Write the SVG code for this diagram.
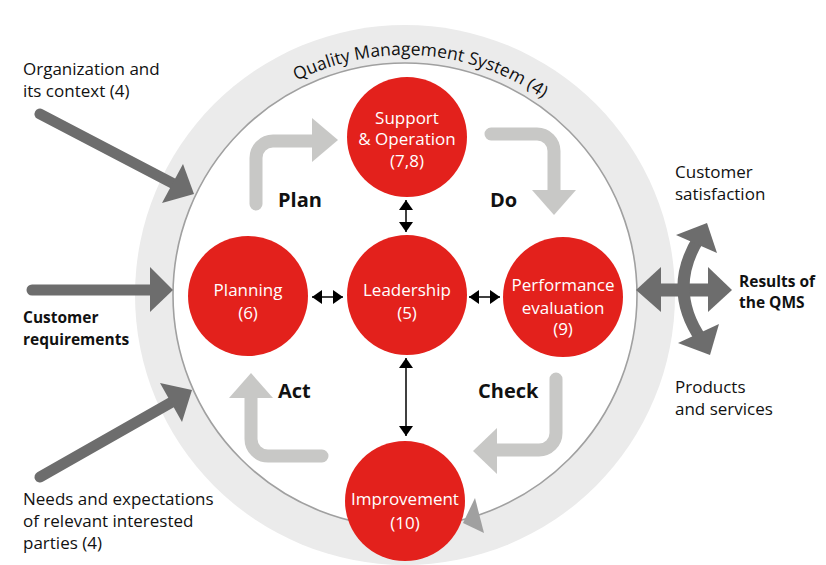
<svg xmlns="http://www.w3.org/2000/svg" width="826" height="565" viewBox="0 0 826 565">
<defs>
<style>
.lbl{font-family:"Open Sans","Liberation Sans",sans-serif;font-size:17px;fill:#111}
.bl{font-family:"Open Sans","Liberation Sans",sans-serif;font-size:15.5px;font-weight:bold;fill:#111}
.pdca{font-family:"Open Sans","Liberation Sans",sans-serif;font-size:20px;font-weight:bold;fill:#111}
.ct{font-family:"Open Sans","Liberation Sans",sans-serif;font-size:17px;fill:#fff;text-anchor:middle}
.node{fill:#e3211c}
.dk{fill:none;stroke:#6d6d6d;stroke-width:11;stroke-linecap:round}
.dkh{fill:#6d6d6d}
.lt{fill:none;stroke:#c8c8c6;stroke-width:13;stroke-linecap:round}
.lth{fill:#c8c8c6}
.dbl{stroke:#000;stroke-width:1.5;fill:none}
</style>
<path id="arc" d="M165,295 A240,240 0 0 1 645,295"/>
<marker id="ah" viewBox="0 0 10 14" refX="10" refY="7" markerWidth="10" markerHeight="14" markerUnits="userSpaceOnUse" orient="auto-start-reverse">
<path d="M0,0 L10,7 L0,14 z" fill="#000"/>
</marker>
</defs>

<g id="qms">
<circle cx="405" cy="295" r="270" fill="#ebebeb"/>
<circle cx="405" cy="295" r="232" fill="#fff" stroke="#a0a0a0" stroke-width="1.6"/>
<polygon points="463,523 475,498 484,533" fill="#a0a0a0"/>
<text font-family="'Open Sans','Liberation Sans',sans-serif" font-size="17.5" fill="#111"><textPath href="#arc" startOffset="394" text-anchor="middle">Quality Management System (4)</textPath></text>
</g>

<g id="connectors">
<!-- inputs -->
<line class="dk" x1="40" y1="114" x2="174" y2="184"/>
<polygon class="dkh" points="194,194 162,203 183,164"/>
<line class="dk" x1="32" y1="290" x2="152" y2="290"/>
<polygon class="dkh" points="173,290 150,267 150,312"/>
<line class="dk" x1="40" y1="477" x2="172" y2="402"/>
<polygon class="dkh" points="192,390 160,383 182,422"/>
<!-- outputs -->
<line x1="655" y1="290" x2="712" y2="290" stroke="#6d6d6d" stroke-width="13"/>
<polygon class="dkh" points="636,290 661,267 661,312"/>
<polygon class="dkh" points="732,290 708,267 708,312"/>
<path d="M699,238 Q667,289 701,339" fill="none" stroke="#6d6d6d" stroke-width="12"/>
<polygon class="dkh" points="707,223 676,235 717,253"/>
<polygon class="dkh" points="710,355 678,343 719,324"/>
<!-- PDCA -->
<path class="lt" d="M256,204 V158 A17,17 0 0 1 273,141 H314"/>
<polygon class="lth" points="338,140 312,118 312,162"/>
<path class="lt" d="M491,134 H537 A17,17 0 0 1 554,151 V192"/>
<polygon class="lth" points="554,215 532,190 576,190"/>
<path class="lt" d="M556,379 V433 A17,17 0 0 1 539,450 H494"/>
<polygon class="lth" points="473,451 497,428 497,474"/>
<path class="lt" d="M322,456 H268 A17,17 0 0 1 251,439 V396"/>
<polygon class="lth" points="251,373 229,398 273,398"/>
<!-- double arrows -->
<line class="dbl" x1="406" y1="200" x2="406" y2="232" marker-start="url(#ah)" marker-end="url(#ah)"/>
<line class="dbl" x1="406" y1="358" x2="406" y2="436" marker-start="url(#ah)" marker-end="url(#ah)"/>
<line class="dbl" x1="312" y1="297" x2="343" y2="297" marker-start="url(#ah)" marker-end="url(#ah)"/>
<line class="dbl" x1="469" y1="297" x2="500" y2="297" marker-start="url(#ah)" marker-end="url(#ah)"/>
</g>

<g id="support">
<circle class="node" cx="407" cy="137" r="60"/>
<text class="ct" x="407" y="124">Support</text>
<text class="ct" x="407" y="145">&amp; Operation</text>
<text class="ct" x="407" y="167">(7,8)</text>
</g>
<g id="planning">
<circle class="node" cx="248" cy="296" r="60"/>
<text class="ct" x="248" y="296">Planning</text>
<text class="ct" x="248" y="319">(6)</text>
</g>
<g id="leadership">
<circle class="node" cx="407" cy="295" r="60"/>
<text class="ct" x="407" y="296">Leadership</text>
<text class="ct" x="407" y="319">(5)</text>
</g>
<g id="performance">
<circle class="node" cx="563" cy="297" r="60"/>
<text class="ct" x="563" y="291">Performance</text>
<text class="ct" x="563" y="314">evaluation</text>
<text class="ct" x="563" y="335">(9)</text>
</g>
<g id="improvement">
<circle class="node" cx="405" cy="501" r="60"/>
<text class="ct" x="405" y="505">Improvement</text>
<text class="ct" x="405" y="529">(10)</text>
</g>

<g id="labels">
<text class="lbl" x="23" y="75">Organization and</text>
<text class="lbl" x="23" y="97">its context (4)</text>
<text class="bl" x="23" y="323">Customer</text>
<text class="bl" x="23" y="345">requirements</text>
<text class="lbl" x="23" y="505">Needs and expectations</text>
<text class="lbl" x="23" y="527">of relevant interested</text>
<text class="lbl" x="23" y="549">parties (4)</text>
<text class="lbl" x="675" y="178">Customer</text>
<text class="lbl" x="675" y="200">satisfaction</text>
<text class="bl" x="739" y="287">Results of</text>
<text class="bl" x="739" y="308">the QMS</text>
<text class="lbl" x="675" y="393">Products</text>
<text class="lbl" x="675" y="415">and services</text>
<text class="pdca" x="278" y="207">Plan</text>
<text class="pdca" x="490" y="207">Do</text>
<text class="pdca" x="278" y="398">Act</text>
<text class="pdca" x="478" y="398">Check</text>
</g>
</svg>
